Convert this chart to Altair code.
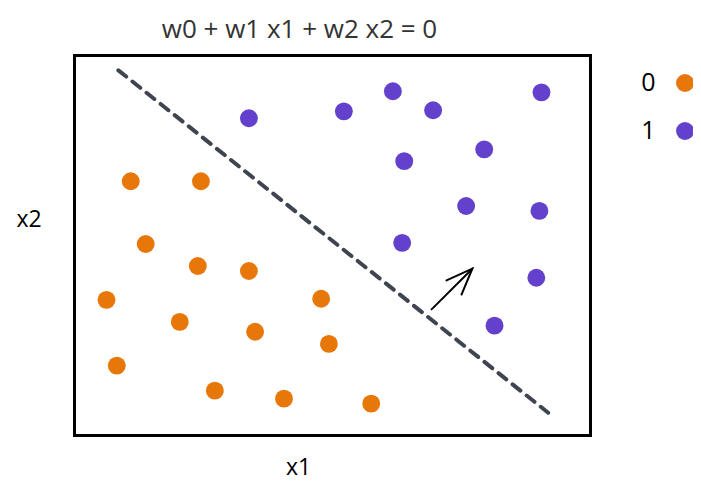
import altair as alt
import pandas as pd

# class 0 (orange) points
x0 = [1.09, 2.45, 1.38, 2.39, 3.38, 0.62, 2.04, 3.50, 4.78, 4.93, 0.82, 2.72, 4.06, 5.75]
y0 = [6.69, 6.69, 5.04, 4.46, 4.33, 3.57, 2.99, 2.73, 3.60, 2.41, 1.84, 1.18, 0.97, 0.84]
# class 1 (purple) points
x1 = [3.38, 5.22, 6.17, 6.95, 9.05, 6.39, 7.94, 7.59, 9.01, 6.35, 8.95, 8.14]
y1 = [8.35, 8.53, 9.06, 8.56, 9.03, 7.22, 7.53, 6.04, 5.91, 5.07, 4.15, 2.89]

# decision boundary endpoints
bx = [0.85, 9.18]
by = [9.61, 0.60]

# normal arrow: shaft and head
ax_ = [6.92, 7.71, 7.21, 7.71, 7.50]
ay_ = [3.32, 4.39, 4.08, 4.39, 3.71]
agrp = ["shaft", "shaft", "head", "head", "head"]
aord = [0, 1, 0, 1, 2]

classes = ["0", "1"]
colors = ["#E8770A", "#6441CC"]

FONT = "Open Sans"

pts = pd.DataFrame({
    "x": x0 + x1,
    "y": y0 + y1,
    "c": ["0"] * len(x0) + ["1"] * len(x1),
})
bnd = pd.DataFrame({"x": bx, "y": by})
arr = pd.DataFrame({"x": ax_, "y": ay_, "g": agrp, "o": aord})

xs = alt.Scale(domain=[0, 10], nice=False, zero=False)
ys = alt.Scale(domain=[0, 10], nice=False, zero=False)

xaxis = alt.Axis(labels=False, ticks=False, domain=False, grid=False,
                 title="x1", titleFont=FONT, titleFontSize=23, titleFontWeight="normal",
                 titleColor="black", titleX=223.5, titleY=39, titleAlign="center",
                 titleBaseline="alphabetic")
yaxis = alt.Axis(labels=False, ticks=False, domain=False, grid=False,
                 title="x2", titleFont=FONT, titleFontSize=23, titleFontWeight="normal",
                 titleColor="black", titleAngle=0, titleX=-46, titleY=170.5,
                 titleAlign="center", titleBaseline="alphabetic")

points = alt.Chart(pts).mark_circle(size=320, opacity=1).encode(
    x=alt.X("x:Q", scale=xs, axis=xaxis),
    y=alt.Y("y:Q", scale=ys, axis=yaxis),
    color=alt.Color("c:N", scale=alt.Scale(domain=classes, range=colors),
                    legend=alt.Legend(title=None, orient="none", legendX=598, legendY=15,
                                      symbolType="circle", symbolSize=320,
                                      symbolStrokeWidth=0, labelFont=FONT,
                                      labelFontSize=25, labelColor="black",
                                      labelAlign="right", labelOffset={"expr": "-42"},
                                      rowPadding=22, padding=0)),
)

boundary = alt.Chart(bnd).mark_line(color="#3f4550", strokeWidth=4,
                                    strokeDash=[10, 8], strokeCap="round").encode(
    x=alt.X("x:Q", scale=xs),
    y=alt.Y("y:Q", scale=ys),
)

arrow = alt.Chart(arr).mark_line(color="black", strokeWidth=2, strokeCap="round").encode(
    x=alt.X("x:Q", scale=xs),
    y=alt.Y("y:Q", scale=ys),
    detail="g:N",
    order="o:Q",
)

chart = alt.layer(boundary, arrow, points).properties(
    width=516, height=380,
    padding={"left": 66.5, "top": 47.5, "right": 102, "bottom": 50},
    autosize=alt.AutoSizeParams(type="none"),
    background="white",
    title=alt.TitleParams("w0 + w1 x1 + w2 x2 = 0", font=FONT, fontSize=26,
                          fontWeight="normal", color="#333333", anchor="middle",
                          dx=-33, dy=26, offset=18, baseline="alphabetic"),
).configure_view(stroke="black", strokeWidth=3)

chart.save("out.html", embed_options={"renderer": "svg", "actions": False})
